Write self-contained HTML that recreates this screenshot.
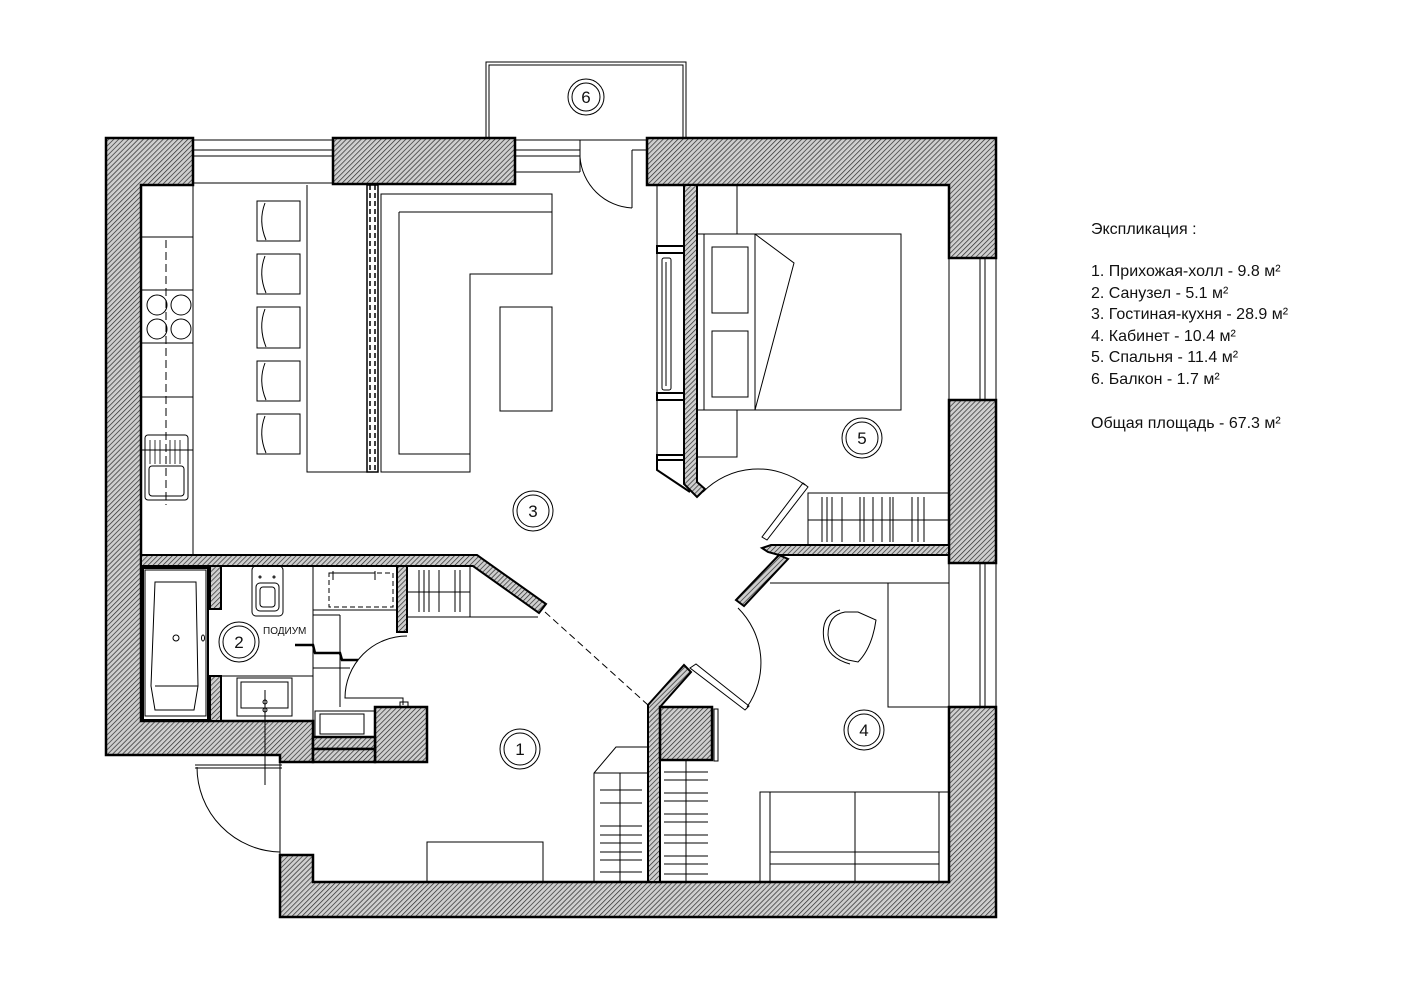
<!DOCTYPE html>
<html><head><meta charset="utf-8"><style>
html,body{margin:0;padding:0;background:#fff;}
svg{display:block}
text{font-family:"Liberation Sans","Noto Sans CJK SC",sans-serif;fill:#111}
</style></head><body>
<svg width="1415" height="1000" viewBox="0 0 1415 1000" xmlns="http://www.w3.org/2000/svg">
<defs>
<pattern id="h" width="3.5" height="3.5" patternUnits="userSpaceOnUse" patternTransform="rotate(45)">
<rect width="3.5" height="3.5" fill="#cfcfcf"/><line x1="0" y1="0" x2="0" y2="3.5" stroke="#2a2a2a" stroke-width="1.4"/>
</pattern>
</defs>
<g stroke="#000" fill="none" stroke-width="1">
<!-- balcony -->
<rect x="486" y="62" width="200" height="78" stroke-width="1"/>
<rect x="489" y="65" width="194" height="75" stroke-width="1"/>
<!-- windows top -->
<line x1="193" y1="140" x2="333" y2="140"/><line x1="193" y1="150" x2="333" y2="150"/><line x1="193" y1="156" x2="333" y2="156"/><line x1="193" y1="183" x2="333" y2="183"/>
<line x1="515" y1="140" x2="580" y2="140"/><line x1="515" y1="150" x2="580" y2="150"/><line x1="515" y1="156" x2="580" y2="156"/><line x1="515" y1="172" x2="580" y2="172"/><line x1="580" y1="140" x2="580" y2="172"/>
<line x1="632" y1="150" x2="632" y2="208"/><line x1="632" y1="150" x2="647" y2="150"/>
<path d="M580 157 A55 55 0 0 0 632 208"/>
<!-- right windows -->
<line x1="949" y1="258" x2="949" y2="400"/><line x1="980" y1="258" x2="980" y2="400"/><line x1="985" y1="258" x2="985" y2="400"/><line x1="996" y1="258" x2="996" y2="400"/>
<line x1="949" y1="563" x2="949" y2="707"/><line x1="980" y1="563" x2="980" y2="707"/><line x1="985" y1="563" x2="985" y2="707"/><line x1="996" y1="563" x2="996" y2="707"/>
<!-- walls -->
<g fill="url(#h)" stroke-width="2.5">
<path d="M106 138 H193 V185 H141 V721 H313 V762 H280 V755 H106 Z"/>
<rect x="333" y="138" width="182" height="46"/>
<path d="M647 138 H996 V258 H949 V185 H647 Z"/>
<rect x="949" y="400" width="47" height="163"/>
<path d="M280 855 H313 V882 H949 V707 H996 V917 H280 Z"/>
<rect x="375" y="707" width="52" height="55"/>
<rect x="313" y="737" width="62" height="12"/><rect x="313" y="749" width="62" height="13"/>
<path d="M141 555 H477 L546 604 L539 613 L473 566 H141 Z" stroke-width="2"/>
<rect x="210" y="566" width="11" height="43" stroke-width="2"/>
<rect x="210" y="676" width="11" height="45" stroke-width="2"/>
<rect x="397" y="566" width="10" height="66" stroke-width="2"/>
<path d="M684 185 H697 V482 L705 489 L697 497 L684 484 Z" stroke-width="2"/>
<path d="M771 545 H949 V555 H779 L768 552 L762 548 Z" stroke-width="2"/>
<path d="M779 555 L788 559 L744 606 L736 600 Z" stroke-width="2"/>
<path d="M648 705 L684 665 L691 672 L660 707 V882 H648 Z" stroke-width="2"/>
<rect x="660" y="707" width="52" height="53"/>
</g>
<!-- kitchen -->
<line x1="193" y1="185" x2="193" y2="555"/>
<line x1="141" y1="237" x2="193" y2="237"/><line x1="141" y1="290" x2="193" y2="290"/><line x1="141" y1="343" x2="193" y2="343"/><line x1="141" y1="397" x2="193" y2="397"/><line x1="141" y1="450" x2="193" y2="450"/>
<line x1="166" y1="240" x2="166" y2="505" stroke-dasharray="8 4"/>
<circle cx="157" cy="305" r="10"/><circle cx="181" cy="305" r="10"/><circle cx="157" cy="329" r="10"/><circle cx="181" cy="329" r="10"/>
<rect x="145" y="435" width="43" height="65" rx="3"/><rect x="149" y="466" width="35" height="30" rx="3"/>
<g stroke-width="0.8"><line x1="150" y1="440" x2="150" y2="464"/><line x1="155" y1="440" x2="155" y2="464"/><line x1="160" y1="440" x2="160" y2="464"/><line x1="170" y1="440" x2="170" y2="464"/><line x1="175" y1="440" x2="175" y2="464"/><line x1="180" y1="440" x2="180" y2="464"/></g>
<!-- bar chairs -->
<g>
<rect x="257" y="201" width="43" height="40"/><path d="M265 203 Q258 221 266 240"/>
<rect x="257" y="254" width="43" height="40"/><path d="M265 256 Q258 274 266 293"/>
<rect x="257" y="307" width="43" height="41"/><path d="M265 309 Q258 327 266 347"/>
<rect x="257" y="361" width="43" height="40"/><path d="M265 363 Q258 381 266 400"/>
<rect x="257" y="414" width="43" height="40"/><path d="M265 416 Q258 434 266 453"/>
</g>
<path d="M307 185 V472 H367"/>
<rect x="367" y="185" width="11" height="287" stroke-width="1.5"/>
<line x1="370" y1="185" x2="370" y2="472" stroke-dasharray="5 3" stroke-width="1.5"/>
<line x1="375" y1="185" x2="375" y2="472" stroke-dasharray="5 3" stroke-width="1.5"/>
<path d="M381 472 V194 H552 V274 H470 V472 Z"/>
<path d="M399 212 H552 M399 212 V454 H470"/>
<rect x="500" y="307" width="52" height="104"/>
<!-- bedroom -->
<rect x="657" y="185" width="27" height="275"/>
<rect x="657" y="246" width="27" height="7" stroke-width="2"/><rect x="657" y="393" width="27" height="7" stroke-width="2"/><rect x="657" y="455" width="27" height="5" stroke-width="2"/>
<rect x="662" y="258" width="9" height="132" rx="2"/><line x1="666" y1="262" x2="666" y2="386"/>
<path d="M657 460 V470 L690 492" stroke-width="2"/>
<rect x="697" y="185" width="40" height="49"/><rect x="697" y="410" width="40" height="47"/>
<rect x="697" y="234" width="204" height="176"/>
<line x1="704" y1="234" x2="704" y2="410"/><line x1="755" y1="234" x2="755" y2="410"/>
<rect x="712" y="247" width="36" height="66"/><rect x="712" y="331" width="36" height="66"/>
<path d="M755 234 L794 263 L755 410"/>
<path d="M703 492 A77 77 0 0 1 805 485"/>
<path d="M803 483 L808 487 L767 540 L762 537 Z"/>
<rect x="808" y="493" width="141" height="52"/><line x1="808" y1="520" x2="949" y2="520"/>
<g><line x1="822" y1="497" x2="822" y2="542"/><line x1="827" y1="497" x2="827" y2="542"/><line x1="832" y1="497" x2="832" y2="542"/><line x1="842" y1="497" x2="842" y2="542"/><line x1="860" y1="497" x2="860" y2="542"/><line x1="864" y1="497" x2="864" y2="542"/><line x1="873" y1="497" x2="873" y2="542"/><line x1="882" y1="497" x2="882" y2="542"/><line x1="890" y1="497" x2="890" y2="542"/><line x1="893" y1="497" x2="893" y2="542"/><line x1="912" y1="497" x2="912" y2="542"/><line x1="918" y1="497" x2="918" y2="542"/><line x1="924" y1="497" x2="924" y2="542"/></g>
<!-- office -->
<line x1="770" y1="583" x2="949" y2="583"/>
<rect x="888" y="583" width="61" height="124"/>
<path d="M845 612 Q828 615 828 635 Q830 655 848 660 L858 662 Q872 648 876 620 L858 612 Z"/>
<path d="M840 610 Q820 615 824 640 Q828 658 850 664"/>
<path d="M690 668 L696 664 L749 706 L745 710 Z"/>
<path d="M738 608 A77 77 0 0 1 747 707"/>
<rect x="714" y="709" width="4" height="52"/>
<rect x="760" y="792" width="189" height="90"/><line x1="770" y1="792" x2="770" y2="882"/><line x1="855" y1="792" x2="855" y2="882"/>
<line x1="770" y1="852" x2="939" y2="852"/><line x1="770" y1="864" x2="939" y2="864"/><line x1="939" y1="792" x2="939" y2="882"/>
<line x1="686" y1="760" x2="686" y2="882"/>
<g><line x1="664" y1="772" x2="708" y2="772"/><line x1="664" y1="780" x2="708" y2="780"/><line x1="664" y1="793" x2="708" y2="793"/><line x1="664" y1="801" x2="708" y2="801"/><line x1="664" y1="814" x2="708" y2="814"/><line x1="664" y1="822" x2="708" y2="822"/><line x1="664" y1="835" x2="708" y2="835"/><line x1="664" y1="843" x2="708" y2="843"/><line x1="664" y1="856" x2="708" y2="856"/><line x1="664" y1="864" x2="708" y2="864"/><line x1="664" y1="874" x2="708" y2="874"/></g>
<path d="M594 882 V773 L616 747 H648"/><line x1="594" y1="773" x2="648" y2="773"/><line x1="620" y1="773" x2="620" y2="882"/>
<g><line x1="600" y1="790" x2="642" y2="790"/><line x1="600" y1="803" x2="642" y2="803"/><line x1="600" y1="826" x2="642" y2="826"/><line x1="600" y1="835" x2="642" y2="835"/><line x1="600" y1="843" x2="642" y2="843"/><line x1="600" y1="852" x2="642" y2="852"/><line x1="600" y1="860" x2="642" y2="860"/><line x1="600" y1="872" x2="642" y2="872"/></g>
<!-- hall -->
<line x1="545" y1="612" x2="648" y2="705" stroke-dasharray="7 4"/>
<rect x="427" y="842" width="116" height="40"/>
<path d="M195 765 H282 M195 768 H282" />
<path d="M197 767 A85 85 0 0 0 280 852"/>
<line x1="280" y1="762" x2="280" y2="855"/>
<line x1="265" y1="690" x2="265" y2="785"/>
<path d="M407 636 A62 62 0 0 0 345 698 H403 V705"/>
<rect x="400" y="702" width="8" height="5"/>
<!-- pantry shelves -->
<rect x="407" y="566" width="63" height="51"/><line x1="407" y1="592" x2="470" y2="592"/><line x1="470" y1="617" x2="538" y2="617"/>
<g><line x1="419" y1="570" x2="419" y2="612"/><line x1="424" y1="570" x2="424" y2="612"/><line x1="429" y1="570" x2="429" y2="612"/><line x1="439" y1="570" x2="439" y2="612"/><line x1="455" y1="570" x2="455" y2="612"/><line x1="460" y1="570" x2="460" y2="612"/></g>
<!-- bathroom -->
<rect x="143" y="568" width="65" height="152" stroke-width="2"/>
<path d="M145 570 H206 V716 H145 Z"/>
<path d="M155 582 H196 L198 686 L194 710 H155 L151 686 Z"/>
<line x1="155" y1="686" x2="198" y2="686"/>
<circle cx="176" cy="638" r="3"/><ellipse cx="203" cy="638" rx="1.5" ry="3"/>
<rect x="252" y="566" width="31" height="50" rx="4"/><rect x="256" y="583" width="23" height="28" rx="4"/><rect x="260" y="587" width="15" height="20" rx="3"/>
<circle cx="260" cy="577" r="1"/><circle cx="274" cy="577" r="1"/>
<rect x="237" y="678" width="55" height="38"/><rect x="241" y="682" width="47" height="26"/>
<circle cx="265" cy="702" r="2"/><circle cx="265" cy="710" r="2"/>
<line x1="221" y1="676" x2="313" y2="676"/>
<line x1="313" y1="566" x2="313" y2="737"/><line x1="313" y1="610" x2="397" y2="610"/><line x1="313" y1="615" x2="340" y2="615"/><line x1="340" y1="615" x2="340" y2="707"/>
<line x1="313" y1="668" x2="350" y2="668"/>
<rect x="329" y="573" width="64" height="34" stroke-dasharray="5 3"/>
<path d="M333 571 V580 M375 571 V580 M333 573 H375"/>
<path d="M295 645 H313 L315 653 H340 L342 660 H358" stroke-width="2.5"/>
<rect x="315" y="711" width="60" height="26"/><rect x="320" y="714" width="44" height="20"/>
<!-- labels circles -->
<g>
<circle cx="520" cy="749" r="20"/><circle cx="520" cy="749" r="16"/>
<circle cx="239" cy="642" r="20"/><circle cx="239" cy="642" r="16"/>
<circle cx="533" cy="511" r="20"/><circle cx="533" cy="511" r="16"/>
<circle cx="864" cy="730" r="20"/><circle cx="864" cy="730" r="16"/>
<circle cx="862" cy="438" r="20"/><circle cx="862" cy="438" r="16"/>
<circle cx="586" cy="97" r="18"/><circle cx="586" cy="97" r="14"/>
</g>
</g>
<g font-size="17" text-anchor="middle">
<text x="520" y="755">1</text><text x="239" y="648">2</text><text x="533" y="517">3</text><text x="864" y="736">4</text><text x="862" y="444">5</text><text x="586" y="103">6</text>
</g>
<text x="263" y="634" font-size="10">ПОДИУМ</text>
<g font-size="16">
<text x="1091" y="234">Экспликация :</text>
<text x="1091" y="276">1. Прихожая-холл - 9.8 м²</text>
<text x="1091" y="298">2. Санузел - 5.1 м²</text>
<text x="1091" y="319">3. Гостиная-кухня - 28.9 м²</text>
<text x="1091" y="341">4. Кабинет - 10.4 м²</text>
<text x="1091" y="362">5. Спальня - 11.4 м²</text>
<text x="1091" y="384">6. Балкон - 1.7 м²</text>
<text x="1091" y="428">Общая площадь - 67.3 м²</text>
</g>
</svg>
</body></html>
